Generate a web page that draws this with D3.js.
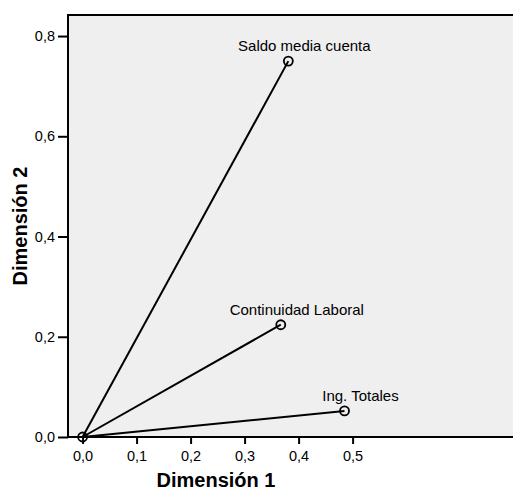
<!DOCTYPE html>
<html>
<head>
<meta charset="utf-8">
<script src="https://cdn.jsdelivr.net/npm/d3@7"></script>
<style>
  body { margin: 0; background: #fff; }
  svg { font-family: "Liberation Sans", Arial, sans-serif; }
</style>
</head>
<body>
<div id="chart"></div>
<script>
// Component loadings
const labels = ["Saldo media cuenta", "Continuidad Laboral", "Ing. Totales"];
const dim1 = [0.381, 0.367, 0.485];
const dim2 = [0.750, 0.224, 0.052];
const xTicks = [0, 0.1, 0.2, 0.3, 0.4, 0.5];
const yTicks = [0, 0.2, 0.4, 0.6, 0.8];

const width = 513, height = 490;
const plotLeft = 68, plotTop = 15, plotRight = 513, plotBottom = 437;

const x = d3.scaleLinear().domain([-0.027, 0.797]).range([plotLeft, plotRight]);
const y = d3.scaleLinear().domain([0, 0.842]).range([plotBottom, plotTop]);

const fmt = d => d3.format(".1f")(d).replace(".", ",");

const svg = d3.select("#chart").append("svg")
    .attr("width", width)
    .attr("height", height);

// plot background
svg.append("rect")
    .attr("x", plotLeft).attr("y", plotTop)
    .attr("width", plotRight - plotLeft).attr("height", plotBottom - plotTop)
    .attr("fill", "#efefef");

// frame (left, top, bottom)
svg.append("path")
    .attr("d", `M${plotRight},${plotTop}H${plotLeft}V${plotBottom}H${plotRight}`)
    .attr("fill", "none")
    .attr("stroke", "#000")
    .attr("stroke-width", 2);

// axes
const xAxis = svg.append("g")
    .attr("transform", `translate(0,${plotBottom})`)
    .call(d3.axisBottom(x).tickValues(xTicks).tickFormat(fmt).tickSize(7).tickPadding(7));
xAxis.select(".domain").remove();

const yAxis = svg.append("g")
    .attr("transform", `translate(${plotLeft},0)`)
    .call(d3.axisLeft(y).tickValues(yTicks).tickFormat(fmt).tickSize(10).tickPadding(3));
yAxis.select(".domain").remove();

svg.selectAll(".tick line").attr("stroke", "#000").attr("stroke-width", 2);
svg.selectAll(".tick text")
    .attr("fill", "#000")
    .style("font-size", "14.5px")
    .style("font-family", "Liberation Sans, Arial, sans-serif");

// axis titles
svg.append("text")
    .attr("x", 216).attr("y", 487)
    .attr("text-anchor", "middle")
    .style("font-size", "20px")
    .style("font-weight", "bold")
    .text("Dimensión 1");

svg.append("text")
    .attr("transform", `translate(27,${226}) rotate(-90)`)
    .attr("text-anchor", "middle")
    .style("font-size", "20px")
    .style("font-weight", "bold")
    .text("Dimensión 2");

// vectors
const g = svg.append("g");
labels.forEach((name, i) => {
    g.append("line")
        .attr("x1", x(0)).attr("y1", y(0))
        .attr("x2", x(dim1[i])).attr("y2", y(dim2[i]))
        .attr("stroke", "#000")
        .attr("stroke-width", 2);
    g.append("circle")
        .attr("cx", x(dim1[i])).attr("cy", y(dim2[i]))
        .attr("r", 4.5)
        .attr("fill", "none")
        .attr("stroke", "#000")
        .attr("stroke-width", 1.8);
    g.append("text")
        .attr("x", x(dim1[i]) + 16).attr("y", y(dim2[i]) - 10)
        .attr("text-anchor", "middle")
        .style("font-size", "15px")
        .text(name);
});

// origin marker
g.append("circle")
    .attr("cx", x(0)).attr("cy", y(0))
    .attr("r", 4.5)
    .attr("fill", "none")
    .attr("stroke", "#000")
    .attr("stroke-width", 1.8);
</script>
</body>
</html>
